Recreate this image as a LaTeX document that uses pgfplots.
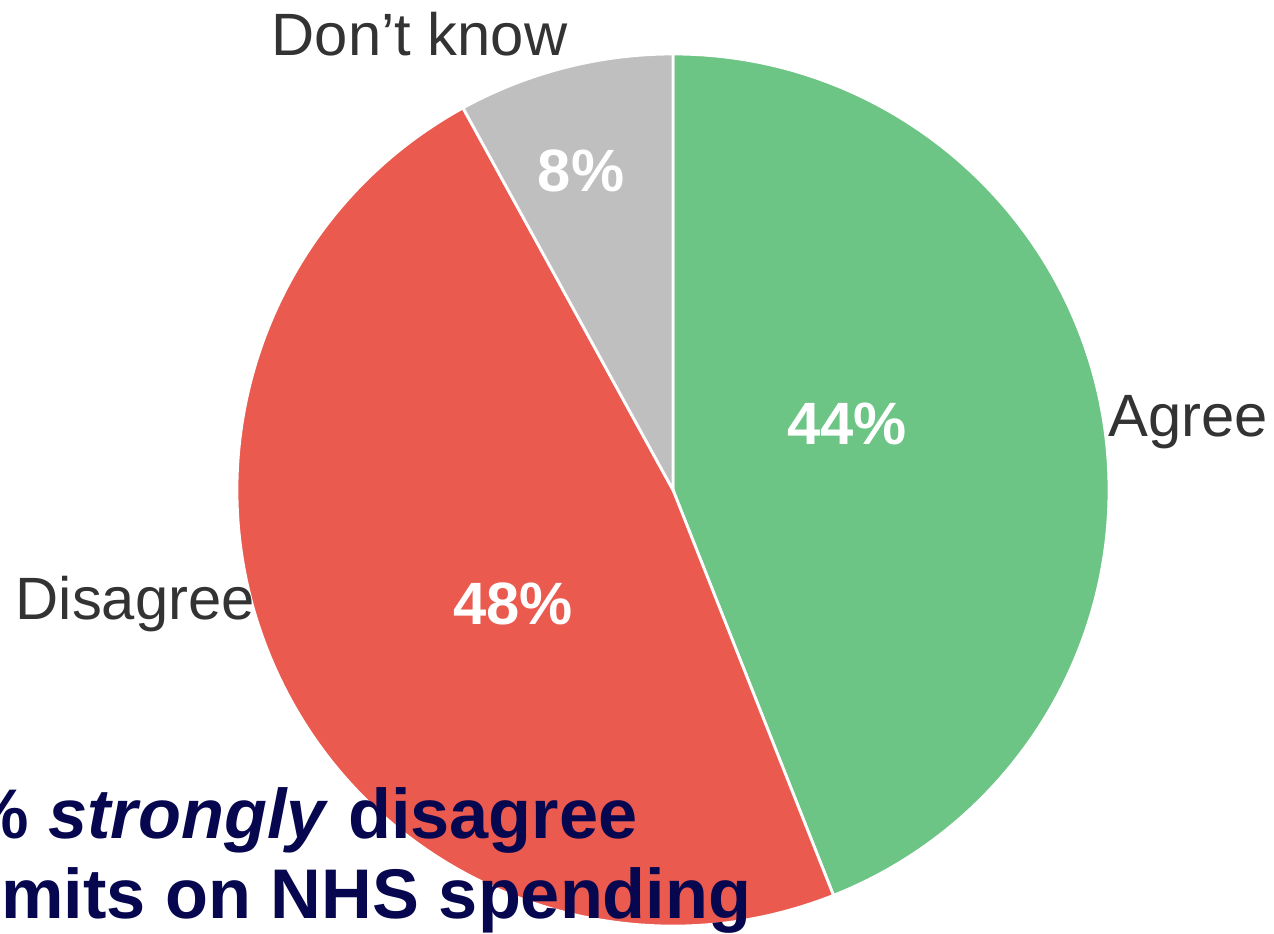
\documentclass[border=0pt]{standalone}
\usepackage{fontspec}
\setmainfont{Liberation Sans}
\usepackage{pgfplots}
\pgfplotsset{compat=1.18}
\definecolor{cAgree}{HTML}{6CC485}
\definecolor{cDis}{HTML}{EA5A4F}
\definecolor{cDK}{HTML}{BFBFBF}
\definecolor{lab}{HTML}{333333}
\definecolor{navy}{HTML}{07074F}
% data (percent)
\def\vAgree{44}
\def\vDis{48}
\def\vDK{8}
\begin{document}
\begin{tikzpicture}
\useasboundingbox (0,0) rectangle (12.74cm,9.33cm);
\clip (0,0) rectangle (12.74cm,9.33cm);
\begin{axis}[
  at={(0,0)}, anchor=south west,
  scale only axis, width=12.74cm, height=9.33cm,
  xmin=0, xmax=1274, ymin=0, ymax=933,
  hide axis, clip=false]
\pgfmathsetmacro{\aA}{90-3.6*\vAgree}
\pgfmathsetmacro{\aB}{\aA-3.6*\vDis}
\pgfmathsetmacro{\aC}{\aB-3.6*\vDK}
\fill[cAgree, draw=white, line width=0.8pt] (axis cs:673,443) -- ++(90:4.36cm) arc[start angle=90, end angle=\aA, radius=4.36cm] -- cycle;
\fill[cDis, draw=white, line width=0.8pt] (axis cs:673,443) -- ++(\aA:4.36cm) arc[start angle=\aA, end angle=\aB, radius=4.36cm] -- cycle;
\fill[cDK, draw=white, line width=0.8pt] (axis cs:673,443) -- ++(\aB:4.36cm) arc[start angle=\aB, end angle=\aC, radius=4.36cm] -- cycle;
% percentage labels
\node[anchor=base, text=white, font=\fontsize{17}{20}\selectfont\bfseries, inner sep=0] at (axis cs:847,488) {\vAgree\%};
\node[anchor=base, text=white, font=\fontsize{17}{20}\selectfont\bfseries, inner sep=0] at (axis cs:513,308) {\vDis\%};
\node[anchor=base, text=white, font=\fontsize{17}{20}\selectfont\bfseries, inner sep=0] at (axis cs:581,741) {\vDK\%};
% category labels
\node[anchor=base west, text=lab, font=\fontsize{17}{20}\selectfont, inner sep=0] at (axis cs:1108,496) {Agree};
\node[anchor=base west, text=lab, font=\fontsize{17}{20}\selectfont, inner sep=0] at (axis cs:15,313) {Disagree};
\node[anchor=base west, text=lab, font=\fontsize{17}{20}\selectfont, inner sep=0] at (axis cs:271,877) {Don’t know};
% title overlay (cut off at the left edge, as in the reference)
\node[anchor=base east, text=navy, font=\fontsize{20}{24}\selectfont\bfseries, inner sep=0] at (axis cs:638,95) {21\% \textit{strongly} disagree};
\node[anchor=base east, text=navy, font=\fontsize{20}{24}\selectfont\bfseries, inner sep=0] at (axis cs:752,15) {with limits on NHS spending};
\end{axis}
\end{tikzpicture}
\end{document}
